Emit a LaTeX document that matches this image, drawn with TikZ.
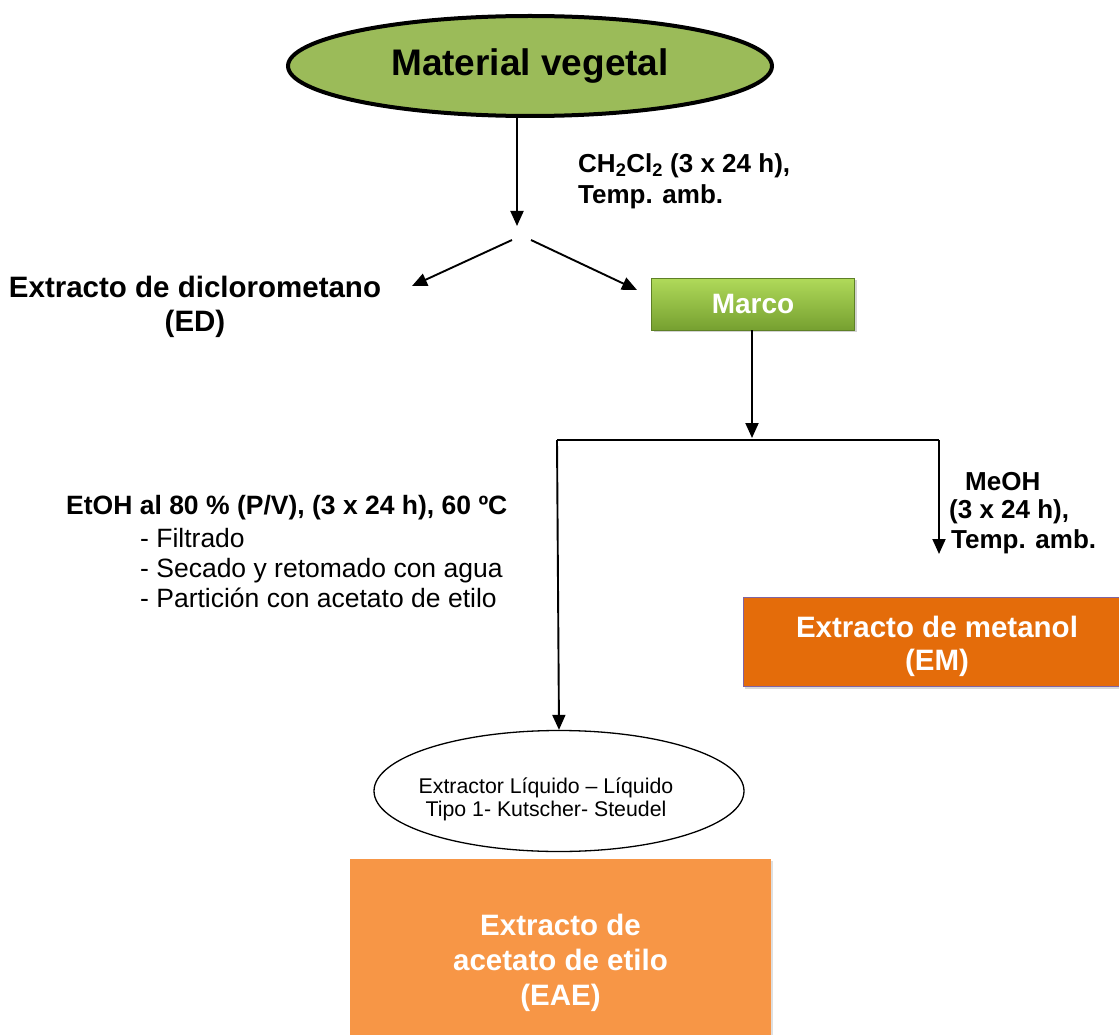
\documentclass[tikz,border=0pt]{standalone}
\usepackage{fontspec}
\setmainfont{Liberation Sans}
\usetikzlibrary{shapes.geometric,arrows.meta,shadows}
\definecolor{vg}{HTML}{9BBB59}
\definecolor{mtop}{HTML}{B0DA5A}
\definecolor{mbot}{HTML}{76A030}
\definecolor{emc}{HTML}{E46C0A}
\definecolor{emb}{HTML}{8064A2}
\definecolor{eae}{HTML}{F79646}
\tikzset{
  arr/.style={line width=1.9pt,-{Triangle[length=15pt,width=13pt]}},
  ln/.style={line width=1.9pt},
  bt/.style={font=\bfseries\fontsize{26}{30}\selectfont, align=left, inner sep=0pt},
  wt/.style={text=white, align=center, inner sep=0pt},
}
\begin{document}
\begin{tikzpicture}[x=1pt,y=-1pt]
\useasboundingbox (0,0) rectangle (1119,1035);
% top ellipse
\node[ellipse, draw, line width=4pt, fill=vg, minimum width=484pt, minimum height=100pt, inner sep=0pt,
      font=\bfseries\fontsize{37}{40}\selectfont] (mv) at (530,66) {Material vegetal};
\coordinate (s1) at (517,226);
\draw[arr] (mv.south -| s1) -- (s1);
\node[bt, anchor=west] (lab1) at (578,166) {CH\textsubscript{2}Cl\textsubscript{2} (3 x 24 h),};
\node[bt, anchor=west] (lab2) at (578,197) {Temp. amb.};
% split
\coordinate (dl0) at (512,240);
\coordinate (dl1) at (412,286);
\coordinate (dr0) at (531,240);
\coordinate (dr1) at (637,290);
\draw[arr] (dl0) -- (dl1);
\draw[arr] (dr0) -- (dr1);
\node[font=\bfseries\fontsize{29.5}{34}\selectfont, align=center, inner sep=0pt] (ed) at (195,307) {Extracto de diclorometano\\(ED)};
% Marco
\node[rectangle, top color=mtop, bottom color=mbot, draw=mbot!80!black, line width=0.6pt,
      minimum width=203pt, minimum height=52pt, drop shadow={opacity=0.35, shadow xshift=2pt, shadow yshift=-2pt},
      font=\bfseries\fontsize{28}{30}\selectfont, text=white] (marco) at (753,304) {Marco};
\coordinate (b0) at (752,438);
\draw[arr] (marco.south -| b0) -- (b0);
\coordinate (hl) at (557,440);
\coordinate (hr) at (939,440);
\coordinate (mr) at (939,554);
\draw[ln] (hl) -- (hr);
\draw[arr] (hr) -- (mr);
% MeOH label
\node[bt, anchor=west] (meoh1) at (965,482) {MeOH};
\node[bt, anchor=west] (meoh2) at (949,512) {(3 x 24 h),};
\node[bt, anchor=west] (meoh3) at (951,542) {Temp. amb.};
% EM box
\node[rectangle, fill=emc, draw=emb, line width=1pt, minimum width=388pt, minimum height=89pt,
      drop shadow={opacity=0.3, shadow xshift=2pt, shadow yshift=-3pt}] (em) at (937,641.5) {};
\node[wt, font=\bfseries\fontsize{29.5}{33}\selectfont] (emt) at (937,646) {Extracto de metanol\\(EM)};
% EtOH text
\node[font=\bfseries\fontsize{26.5}{30}\selectfont, anchor=west, inner sep=0pt] (et0) at (66,508) {EtOH al 80 \% (P/V), (3 x 24 h), 60 ºC};
\node[font=\fontsize{26.5}{30}\selectfont, anchor=north west, inner sep=0pt, align=left] (et1) at (140,528)
  {- Filtrado\\- Secado y retomado con agua\\- Partición con acetato de etilo};
% Extractor ellipse
\node[ellipse, draw, line width=1.3pt, fill=white, minimum width=370pt, minimum height=121pt, inner sep=0pt] (ext) at (559,791) {};
\node[font=\fontsize{21.3}{23}\selectfont, align=center, inner sep=0pt] (extt) at (546,799) {Extractor Líquido – Líquido\\Tipo 1- Kutscher- Steudel};
\draw[arr] (hl) -- (ext.north);
% EAE box
\node[rectangle, fill=eae, minimum width=421pt, minimum height=202pt,
      drop shadow={opacity=0.25, shadow xshift=2pt, shadow yshift=-2pt}] (eaeb) at (560.5,960) {};
\node[wt, font=\bfseries\fontsize{29.5}{35}\selectfont] (eaet) at (560.5,963) {Extracto de\\acetato de etilo\\(EAE)};
\end{tikzpicture}
\end{document}
